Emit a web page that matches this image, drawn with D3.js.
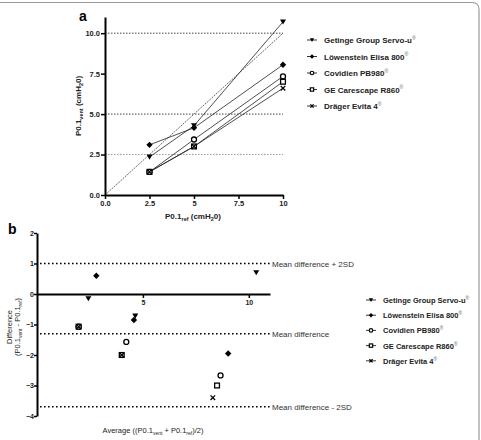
<!DOCTYPE html>
<html><head><meta charset="utf-8">
<script src="https://cdn.jsdelivr.net/npm/d3@7"></script>
<style>
body{margin:0;background:#fff;}
text{font-family:"Liberation Sans",Arial,sans-serif;}
</style></head>
<body><svg id="c" width="481" height="440"></svg>
<script>
const refValues = [2.5, 5, 10];
const seriesNames = ["Getinge Group Servo-u", "Löwenstein Elisa 800", "Covidien PB980", "GE Carescape R860", "Dräger Evita 4"];
const servoU = [2.35, 4.28, 10.7];
const elisa = [3.1, 4.15, 8.05];
const pb980 = [1.43, 3.43, 7.33];
const r860 = [1.43, 3.0, 7.0];
const evita = [1.43, 3.0, 6.6];
const markerTypes = ["tri", "diamond", "circle", "square", "cross"];
const ticksA_x = [0, 2.5, 5, 7.5, 10];
const tickLabelsA_x = ["0.0", "2.5", "5", "7.5", "10"];
const ticksA_y = [0, 2.5, 5, 7.5, 10];
const tickLabelsA_y = ["0.0", "2.5", "5.0", "7.5", "10.0"];
const refLinesA = [2.5, 5, 10];
const ticksB_y = [-4, -3, -2, -1, 0, 1, 2];
const ticksB_x = [5, 10];
const limitValues = [1.0, -1.3, -3.7];
const limitLabels = ["Mean difference + 2SD", "Mean difference", "Mean difference - 2SD"];

const series = [servoU, elisa, pb980, r860, evita];
const svg = d3.select("#c");

// frame
svg.append("path").attr("d", "M0,2.5 H472 Q479,2.5 479,9.5 V440").attr("fill","none").attr("stroke","#9a9a9a").attr("stroke-width",1.2);

function marker(g, type, x, y, s) {
  s = s || 1;
  if (type === "tri") {
    const h = 3*s;
    g.append("path").attr("d", `M${x-h},${y-h*0.8}L${x+h},${y-h*0.8}L${x},${y+h*0.9}Z`).attr("fill","#000");
  } else if (type === "diamond") {
    const h = 3.2*s;
    g.append("path").attr("d", `M${x},${y-h}L${x+h},${y}L${x},${y+h}L${x-h},${y}Z`).attr("fill","#000");
  } else if (type === "circle") {
    g.append("circle").attr("cx",x).attr("cy",y).attr("r",2.5*s).attr("fill","#fff").attr("stroke","#000").attr("stroke-width",1.3*Math.min(1,s+0.2));
  } else if (type === "square") {
    const h = 2.4*s;
    g.append("rect").attr("x",x-h).attr("y",y-h).attr("width",2*h).attr("height",2*h).attr("fill","#fff").attr("stroke","#000").attr("stroke-width",1.3*Math.min(1,s+0.2));
  } else {
    const h = 2.3*s;
    g.append("path").attr("d",`M${x-h},${y-h}L${x+h},${y+h}M${x-h},${y+h}L${x+h},${y-h}`).attr("stroke","#000").attr("stroke-width",1.3);
  }
}

// ---------- Panel a ----------
const xa = d3.scaleLinear().domain([0,10]).range([105,283]);
const ya = d3.scaleLinear().domain([0,11]).range([195,17]);
const ga = svg.append("g");
ga.selectAll(".hl").data(refLinesA).enter().append("line")
  .attr("x1", xa(0)).attr("x2", xa(10)).attr("y1", d=>ya(d)).attr("y2", d=>ya(d))
  .attr("stroke", d => d===2.5 ? "#999" : "#444").attr("stroke-width",1).attr("stroke-dasharray","1.5,1.5");
ga.append("line").attr("x1",xa(0)).attr("y1",ya(0)).attr("x2",xa(10)).attr("y2",ya(10))
  .attr("stroke","#444").attr("stroke-width",0.8).attr("stroke-dasharray","2,1");
const lineA = d3.line().x((d,i)=>xa(refValues[i])).y(d=>ya(d));
series.forEach((s,k)=>{
  ga.append("path").attr("d", lineA(s)).attr("fill","none").attr("stroke","#222").attr("stroke-width",0.8);
});
series.forEach((s,k)=>{
  s.forEach((v,i)=>marker(ga, markerTypes[k], xa(refValues[i]), ya(v)));
});
// axes
const axA_y = ga.append("g").attr("transform",`translate(${xa(0)},0)`)
  .call(d3.axisLeft(ya).tickValues(ticksA_y).tickFormat((d,i)=>tickLabelsA_y[i]).tickSize(4).tickSizeOuter(0));
const axA_x = ga.append("g").attr("transform",`translate(0,${ya(0)})`)
  .call(d3.axisBottom(xa).tickValues(ticksA_x).tickFormat((d,i)=>tickLabelsA_x[i]).tickSize(4).tickSizeOuter(0));
[axA_y, axA_x].forEach(a=>{
  a.select(".domain").attr("stroke-width",2);
  a.selectAll(".tick line").attr("stroke-width",1.5);
  a.selectAll("text").attr("font-size",7.5).attr("font-weight","bold").attr("fill","#222");
});
axA_y.selectAll("text").attr("x",-5);
axA_x.selectAll("text").attr("y",6);
ga.append("text").attr("x",79).attr("y",21).attr("font-size",14).attr("font-weight","bold").text("a");
// y label
const yl = ga.append("text").attr("transform","translate(81,106) rotate(-90)").attr("text-anchor","middle").attr("font-size",8).attr("font-weight","bold").attr("fill","#222");
yl.append("tspan").text("P0.1");
yl.append("tspan").attr("font-size",5.5).attr("dy",2).text("vent");
yl.append("tspan").attr("dy",-2).text(" (cmH");
yl.append("tspan").attr("font-size",5.5).attr("dy",2).text("2");
yl.append("tspan").attr("dy",-2).text("0)");
const xl = ga.append("text").attr("x",193).attr("y",219).attr("text-anchor","middle").attr("font-size",8).attr("font-weight","bold").attr("fill","#222");
xl.append("tspan").text("P0.1");
xl.append("tspan").attr("font-size",5.5).attr("dy",2).text("ref");
xl.append("tspan").attr("dy",-2).text(" (cmH");
xl.append("tspan").attr("font-size",5.5).attr("dy",2).text("2");
xl.append("tspan").attr("dy",-2).text("0)");

function legend(g, x0, y0, dy, fs) {
  seriesNames.forEach((n,k)=>{
    const y = y0 + k*dy;
    g.append("line").attr("x1",x0-5).attr("x2",x0+5).attr("y1",y).attr("y2",y).attr("stroke","#000").attr("stroke-width",0.8);
    marker(g, markerTypes[k], x0, y, 0.7);
    const t = g.append("text").attr("x",x0+12).attr("y",y+3).attr("font-size",fs).attr("font-weight","bold").attr("fill","#222");
    t.append("tspan").text(n);
    t.append("tspan").attr("font-size",fs*0.65).attr("dy",-fs*0.4).attr("font-weight","normal").attr("fill","#666").text("®");
  });
}
legend(ga, 312, 40, 16.5, 8);

// ---------- Panel b ----------
const xb = d3.scaleLinear().domain([0,11]).range([37,270]);
const yb = d3.scaleLinear().domain([-4,2]).range([416,233]);
const gb = svg.append("g");
limitValues.forEach((v,i)=>{
  gb.append("line").attr("x1",40).attr("x2",xb(11)).attr("y1",yb(v)).attr("y2",yb(v))
    .attr("stroke","#000").attr("stroke-width",1.5).attr("stroke-dasharray","1.6,2.4");
  gb.append("text").attr("x",272).attr("y",yb(v)+3).attr("font-size",8).attr("fill","#333").text(limitLabels[i]);
});
const axB_y = gb.append("g").attr("transform",`translate(${xb(0)},0)`)
  .call(d3.axisLeft(yb).tickValues(ticksB_y).tickFormat(d3.format("d")).tickSize(3).tickSizeOuter(0));
const axB_x = gb.append("g").attr("transform",`translate(0,${yb(0)})`)
  .call(d3.axisBottom(xb).tickValues(ticksB_x).tickFormat(d3.format("d")).tickSize(4).tickSizeOuter(0));
[axB_y, axB_x].forEach(a=>{
  a.select(".domain").attr("stroke-width",2);
  a.selectAll(".tick line").attr("stroke-width",1.5);
  a.selectAll("text").attr("font-size",7).attr("font-weight","bold").attr("fill","#222");
});
axB_y.selectAll("text").attr("x",-3);
axB_x.selectAll("text").attr("y",6);
series.forEach((s,k)=>{
  s.forEach((v,i)=>{
    const avg = (v + refValues[i]) / 2, diff = v - refValues[i];
    marker(gb, markerTypes[k], xb(avg), yb(diff));
  });
});
gb.append("text").attr("x",8).attr("y",234).attr("font-size",14).attr("font-weight","bold").text("b");
const bl1 = gb.append("text").attr("transform","translate(12,327) rotate(-90)").attr("text-anchor","middle").attr("font-size",7.5).attr("fill","#222").text("Difference");
const bl2 = gb.append("text").attr("transform","translate(20,327) rotate(-90)").attr("text-anchor","middle").attr("font-size",7.5).attr("fill","#222");
bl2.append("tspan").text("(P0.1");
bl2.append("tspan").attr("font-size",5).attr("dy",2).text("vent");
bl2.append("tspan").attr("dy",-2).text(" - P0.1");
bl2.append("tspan").attr("font-size",5).attr("dy",2).text("ref");
bl2.append("tspan").attr("dy",-2).text(")");
const bx = gb.append("text").attr("x",153).attr("y",433).attr("text-anchor","middle").attr("font-size",7.5).attr("fill","#222");
bx.append("tspan").text("Average ((P0.1");
bx.append("tspan").attr("font-size",5).attr("dy",2).text("vent");
bx.append("tspan").attr("dy",-2).text(" + P0.1");
bx.append("tspan").attr("font-size",5).attr("dy",2).text("ref");
bx.append("tspan").attr("dy",-2).text(")/2)");
legend(gb, 371, 300, 15.2, 7.5);
</script></body></html>
